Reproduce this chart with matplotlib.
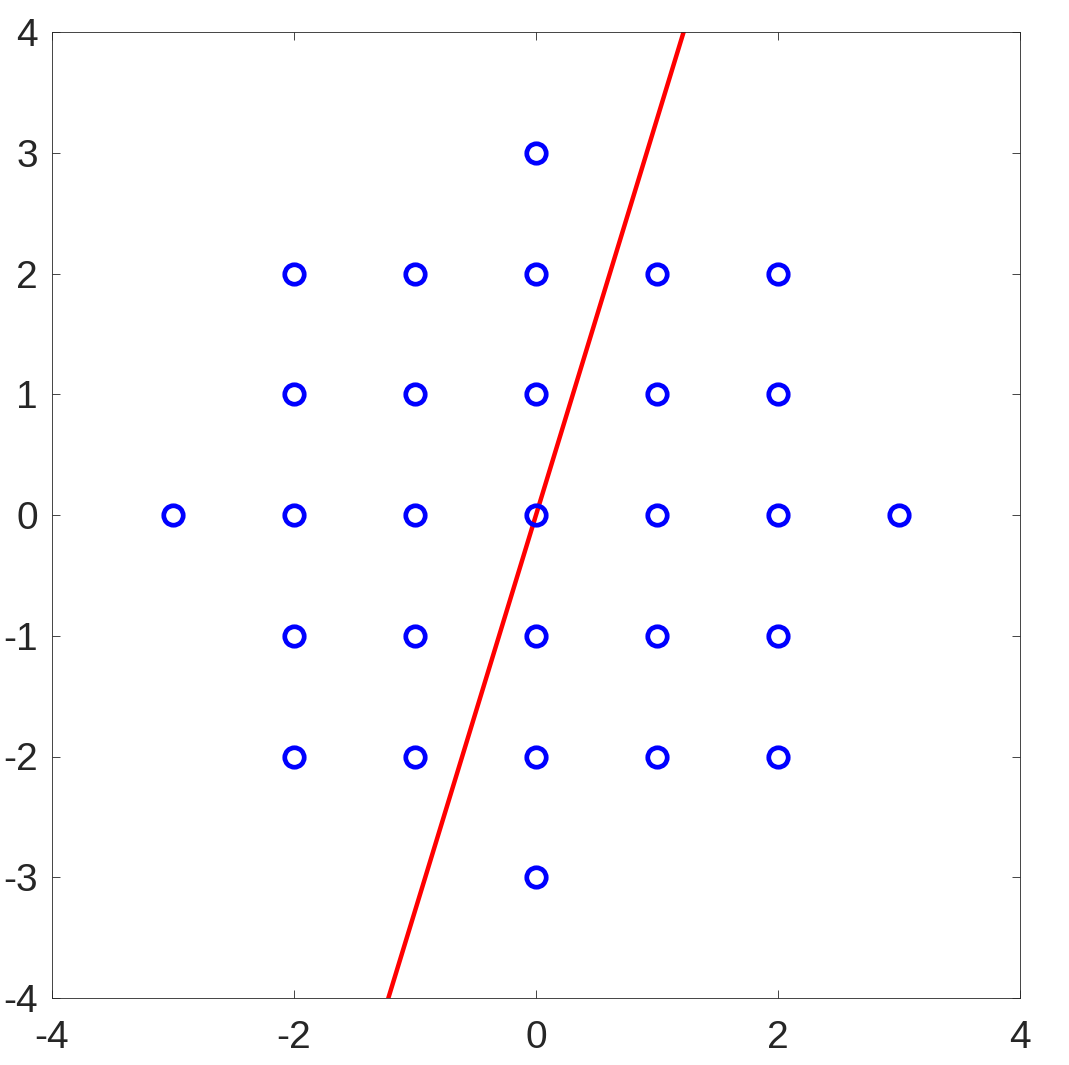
import matplotlib
matplotlib.use("Agg")
import matplotlib.pyplot as plt
import numpy as np

plt.rcParams['font.family'] = ['Liberation Sans', 'DejaVu Sans']
plt.rcParams['axes.unicode_minus'] = False

# lattice points (blue circles)
xs = [0, -2, -1, 0, 1, 2, -2, -1, 0, 1, 2, -3, -2, -1, 0, 1, 2, 3,
      -2, -1, 0, 1, 2, -2, -1, 0, 1, 2, 0]
ys = [3, 2, 2, 2, 2, 2, 1, 1, 1, 1, 1, 0, 0, 0, 0, 0, 0, 0,
      -1, -1, -1, -1, -1, -2, -2, -2, -2, -2, -3]

# red line endpoints
line_x = [-1.22, 1.22]
line_y = [-4, 4]

ticks = [-4, -2, 0, 2, 4]
yticks = [-4, -3, -2, -1, 0, 1, 2, 3, 4]

fig = plt.figure(figsize=(10.69, 10.65), dpi=100)
ax = fig.add_axes([52 / 1069, (1065 - 998) / 1065, (1020 - 52) / 1069, (998 - 32) / 1065])

ax.plot(line_x, line_y, color='#ff0000', linewidth=3.2, zorder=2)
ax.plot(xs, ys, 'o', markerfacecolor='none', markeredgecolor='#0000ff',
        markersize=14, markeredgewidth=3.4, zorder=3)

ax.set_xlim(-4, 4)
ax.set_ylim(-4, 4)
ax.set_xticks(ticks)
ax.set_yticks(yticks)
ax.tick_params(direction='in', top=True, right=True, length=6, width=0.6,
               labelsize=28, labelcolor='#262626', color='#262626')
ax.tick_params(axis='x', pad=16)
ax.tick_params(axis='y', pad=10)
for s in ax.spines.values():
    s.set_linewidth(0.6)
    s.set_color('#262626')

fig.savefig('out.png', dpi=100)
